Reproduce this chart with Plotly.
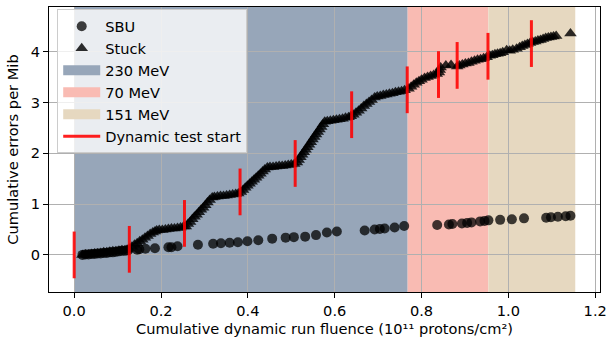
import plotly.graph_objects as go

# ---- Data -------------------------------------------------------------
# Stuck-bit errors: cumulative errors per Mib vs cumulative fluence (1e11 p/cm^2)
stuck_x = [
    0.019, 0.026, 0.033, 0.040, 0.047, 0.054, 0.061, 0.068, 0.075, 0.082, 0.089, 0.096, 0.103, 0.110, 0.117, 0.122,
    0.127, 0.133, 0.139, 0.145, 0.151, 0.157, 0.163, 0.169, 0.175, 0.181, 0.186, 0.190,
    0.196, 0.203, 0.210, 0.217, 0.224, 0.231, 0.238, 0.245, 0.252,
    0.257, 0.262, 0.267, 0.272, 0.277, 0.282, 0.287, 0.292, 0.297, 0.302, 0.307, 0.312, 0.318,
    0.323, 0.330, 0.337, 0.344, 0.351, 0.358, 0.365, 0.372, 0.378,
    0.384, 0.389, 0.394, 0.399, 0.404, 0.409, 0.414, 0.419, 0.424, 0.429, 0.434, 0.439, 0.445,
    0.451, 0.458, 0.465, 0.472, 0.479, 0.486, 0.493, 0.500, 0.507,
    0.513, 0.517, 0.521, 0.525, 0.529, 0.533, 0.537, 0.541, 0.545, 0.549, 0.553, 0.557, 0.561, 0.565, 0.569, 0.573, 0.577,
    0.583, 0.590, 0.597, 0.604, 0.611, 0.618, 0.625, 0.632, 0.637,
    0.643, 0.649, 0.655, 0.661, 0.667, 0.673, 0.679, 0.685, 0.692,
    0.698, 0.705, 0.712, 0.719, 0.726, 0.733, 0.740, 0.747, 0.754, 0.761,
    0.770, 0.776, 0.782, 0.788, 0.794, 0.800, 0.807, 0.814, 0.821, 0.828, 0.835,
    0.840, 0.842, 0.844, 0.856, 0.868, 0.882,
    0.887, 0.894, 0.901, 0.908, 0.915, 0.922, 0.929, 0.936, 0.943, 0.950,
    0.957, 0.963, 0.969, 0.975, 0.981, 0.987, 0.996, 1.003, 1.010, 1.019, 1.026, 1.032, 1.038, 1.044, 1.050,
    1.056, 1.062, 1.068, 1.074, 1.080, 1.086, 1.092, 1.098, 1.104, 1.110,
    1.143,
]
stuck_y = [
    0.00, 0.01, 0.01, 0.02, 0.03, 0.03, 0.04, 0.05, 0.05, 0.06, 0.07, 0.07, 0.08, 0.09, 0.09, 0.10,
    0.12, 0.16, 0.20, 0.23, 0.27, 0.30, 0.34, 0.37, 0.41, 0.44, 0.46, 0.48,
    0.49, 0.49, 0.50, 0.51, 0.52, 0.52, 0.53, 0.54, 0.56,
    0.56, 0.61, 0.65, 0.70, 0.75, 0.79, 0.84, 0.89, 0.93, 0.98, 1.03, 1.08, 1.13,
    1.14, 1.15, 1.16, 1.16, 1.17, 1.18, 1.19, 1.20, 1.21,
    1.24, 1.28, 1.32, 1.36, 1.40, 1.44, 1.48, 1.52, 1.56, 1.60, 1.64, 1.68, 1.72,
    1.73, 1.73, 1.74, 1.75, 1.75, 1.76, 1.77, 1.78, 1.79,
    1.82, 1.87, 1.92, 1.97, 2.02, 2.07, 2.12, 2.17, 2.22, 2.27, 2.32, 2.37, 2.42, 2.47, 2.52, 2.57, 2.62,
    2.63, 2.64, 2.65, 2.66, 2.67, 2.68, 2.70, 2.71, 2.73,
    2.76, 2.80, 2.84, 2.88, 2.93, 2.97, 3.01, 3.05, 3.10,
    3.12, 3.13, 3.15, 3.16, 3.17, 3.18, 3.20, 3.21, 3.22, 3.24,
    3.27, 3.31, 3.35, 3.39, 3.42, 3.45, 3.48, 3.50, 3.52, 3.54, 3.56,
    3.59, 3.64, 3.69, 3.73, 3.74, 3.71,
    3.73, 3.75, 3.77, 3.78, 3.80, 3.82, 3.84, 3.85, 3.87, 3.89,
    3.92, 3.93, 3.95, 3.96, 3.97, 3.99, 4.03, 4.02, 4.04, 4.06, 4.09, 4.11, 4.13, 4.15, 4.17,
    4.19, 4.20, 4.22, 4.23, 4.25, 4.27, 4.28, 4.29, 4.30, 4.31,
    4.36,
]

# Single-bit upsets
sbu_x = [
    0.019, 0.026, 0.033, 0.040, 0.047, 0.054, 0.061, 0.068, 0.075, 0.082, 0.089, 0.096, 0.103, 0.110, 0.117, 0.124,
    0.145, 0.150, 0.164, 0.186, 0.217, 0.224, 0.238, 0.285, 0.320, 0.338, 0.358, 0.377, 0.399, 0.424, 0.456,
    0.487, 0.506, 0.532, 0.557, 0.582, 0.605, 0.669, 0.692, 0.704, 0.715, 0.738, 0.760,
    0.836, 0.863, 0.871, 0.893, 0.905, 0.915, 0.935, 0.945, 0.954, 0.981, 1.008, 1.036,
    1.087, 1.098, 1.114, 1.132, 1.143,
]
sbu_y = [
    0.00, 0.01, 0.01, 0.02, 0.02, 0.03, 0.03, 0.04, 0.04, 0.05, 0.05, 0.06, 0.07, 0.08, 0.08, 0.09,
    0.10, 0.11, 0.12, 0.13, 0.15, 0.15, 0.17, 0.20, 0.22, 0.23, 0.24, 0.25, 0.27, 0.29, 0.32,
    0.34, 0.35, 0.36, 0.39, 0.44, 0.46, 0.48, 0.50, 0.51, 0.52, 0.54, 0.57,
    0.59, 0.60, 0.61, 0.62, 0.63, 0.64, 0.66, 0.67, 0.68, 0.69, 0.70, 0.72,
    0.73, 0.74, 0.75, 0.76, 0.77,
]

# Start of each dynamic test run: fluence and cumulative stuck count at that point
test_start_x = [0.000, 0.127, 0.254, 0.382, 0.509, 0.639, 0.767, 0.839, 0.882, 0.953, 1.053]
test_start_y = [0.00, 0.11, 0.62, 1.24, 1.80, 2.76, 3.25, 3.55, 3.73, 3.91, 4.16]

# Beam energy periods (fluence boundaries)
energy_labels = ["230 MeV", "70 MeV", "151 MeV"]
energy_edges = [0.0, 0.768, 0.954, 1.154]
energy_colors = ["#97a6b9", "#f9bbb3", "#e6d8c0"]

# ---- Styling ----------------------------------------------------------
FONT = "DejaVu Sans"
FS = 14.6
MARK_HALF = 0.46          # half height of the test-start markers
X_RANGE = [-0.058, 1.211]
Y_RANGE = [-0.73, 4.88]

fig = go.Figure()

fig.add_trace(go.Scatter(
    x=sbu_x, y=sbu_y, mode="markers", name="SBU",
    marker=dict(symbol="circle", size=10, color="rgba(0,0,0,0.75)", line=dict(width=0)),
))
fig.add_trace(go.Scatter(
    x=stuck_x, y=stuck_y, mode="markers", name="Stuck",
    marker=dict(symbol="triangle-up", size=11, color="rgba(0,0,0,0.82)", line=dict(width=0)),
))

# Energy periods: shaded spans under the grid, plus legend entries
for label, x0, x1, col in zip(energy_labels, energy_edges[:-1], energy_edges[1:], energy_colors):
    fig.add_shape(type="rect", xref="x", yref="paper", x0=x0, x1=x1, y0=0, y1=1,
                  fillcolor=col, line=dict(width=0), layer="below")
    fig.add_trace(go.Scatter(
        x=[None], y=[None], mode="lines", name=label,
        line=dict(color=col, width=10),
    ))

# Dynamic test start markers as short vertical segments
seg_x, seg_y = [], []
for xv, yv in zip(test_start_x, test_start_y):
    seg_x += [xv, xv, None]
    seg_y += [yv - MARK_HALF, yv + MARK_HALF, None]
fig.add_trace(go.Scatter(
    x=seg_x, y=seg_y, mode="lines", name="Dynamic test start",
    line=dict(color="rgba(255,0,0,0.88)", width=3),
))

axis_common = dict(
    showline=True, linecolor="black", linewidth=1, mirror=True,
    ticks="outside", ticklen=5, tickwidth=1, tickcolor="black",
    showgrid=True, gridcolor="#b0b0b0", gridwidth=1, zeroline=False,
    tickfont=dict(family=FONT, size=FS, color="black"),
)

fig.update_layout(
    width=613, height=343,
    margin=dict(l=49, r=7, t=6, b=51),
    paper_bgcolor="white", plot_bgcolor="white",
    font=dict(family=FONT, size=FS, color="black"),
    showlegend=True,
    legend=dict(
        x=0.0149, y=0.992, xanchor="left", yanchor="top",
        bgcolor="rgba(255,255,255,0.8)", bordercolor="#cccccc", borderwidth=1,
        font=dict(family=FONT, size=FS, color="black"),
        traceorder="normal", itemwidth=37,
    ),
    xaxis=dict(
        range=X_RANGE, tickvals=[0, 0.2, 0.4, 0.6, 0.8, 1.0, 1.2], tickformat=".1f",
        title=dict(text="Cumulative dynamic run fluence (10¹¹ protons/cm²)",
                   font=dict(family=FONT, size=FS), standoff=6),
        **axis_common,
    ),
    yaxis=dict(
        range=Y_RANGE, tickvals=[0, 1, 2, 3, 4],
        title=dict(text="Cumulative errors per Mib", font=dict(family=FONT, size=FS), standoff=8),
        **axis_common,
    ),
)

fig.write_html("out.html")
